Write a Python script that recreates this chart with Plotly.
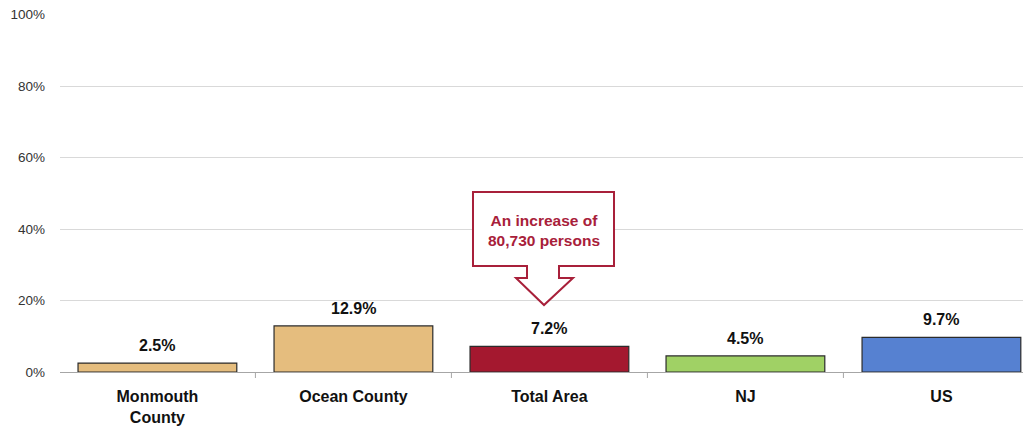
import plotly.graph_objects as go

categories = ["Monmouth<br>County", "Ocean County", "Total Area", "NJ", "US"]
values = [2.5, 12.9, 7.2, 4.5, 9.7]
labels = ["2.5%", "12.9%", "7.2%", "4.5%", "9.7%"]
colors = ["#E5BD7E", "#E5BD7E", "#A4182F", "#A0D165", "#5681D1"]
yticks = [0, 20, 40, 60, 80, 100]
ytick_labels = ["0%", "20%", "40%", "60%", "80%", "100%"]
callout_text = "An increase of<br>80,730 persons"

FONT = "Liberation Sans Narrow, Arial Narrow, Liberation Sans, Arial, sans-serif"
RED = "#A8203A"

OFF = 8  # page body margin
W, H = 1031 - OFF, 430 - OFF
L, R, T, B = 52, 0, 6, 58
pw = W - L - R
ph = H - T - B
YMAX = 100.2

fig = go.Figure()
fig.add_trace(go.Bar(
    x=list(range(len(categories))), y=values,
    marker=dict(color=colors, line=dict(color="#2b2b2b", width=1.2)),
    width=0.81,
    hoverinfo="skip",
))

for i, (v, lab) in enumerate(zip(values, labels)):
    fig.add_annotation(x=i, y=v, xref="x", yref="y", text=lab, showarrow=False,
                       yanchor="bottom", yshift=7,
                       font=dict(family=FONT, size=16, color="#111111", weight="bold"))

# callout in window pixel -> paper coordinates
def px(x):
    return (x - OFF - L) / pw

def py(y):
    return (H + OFF - B - y) / ph

pts = [(473, 192), (614, 192), (614, 266), (559, 266), (559, 278), (573, 278),
       (544, 305), (516, 278), (527, 278), (527, 266), (473, 266)]
path = "M " + " L ".join(f"{px(a):.5f},{py(b):.5f}" for a, b in pts) + " Z"
fig.add_shape(type="path", path=path, xref="paper", yref="paper",
              line=dict(color=RED, width=2), fillcolor="white", layer="above")
fig.add_annotation(x=px(544), y=py(230), xref="paper", yref="paper",
                   text=callout_text, showarrow=False,
                   font=dict(family=FONT, size=15.5, color=RED, weight="bold"),
                   align="center", yanchor="middle", xanchor="center")

fig.update_layout(
    width=W, height=H,
    margin=dict(l=L, r=R, t=T, b=B, autoexpand=False),
    plot_bgcolor="white", paper_bgcolor="white",
    showlegend=False,
    xaxis=dict(
        range=[-0.497, 4.457],
        tickmode="array", tickvals=list(range(len(categories))), ticktext=categories,
        showgrid=False, zeroline=False, automargin=False,
        showline=True, linecolor="#a6a6a6", linewidth=1,
        ticks="", ticklabelstandoff=10,
        tickfont=dict(family=FONT, size=16, color="#111111", weight="bold"),
    ),
    yaxis=dict(
        range=[0, YMAX], tickvals=yticks, ticktext=ytick_labels,
        showgrid=True, gridcolor="#d9d9d9", gridwidth=1,
        zeroline=False, showline=False, automargin=False,
        ticklabeloverflow="allow",
        tickfont=dict(family=FONT, size=13.5, color="#333333"),
        ticklen=0, ticklabelstandoff=14,
    ),
)

# category boundary tick marks
for i in range(len(categories)):
    fig.add_shape(type="line", xref="x", yref="paper",
                  x0=i - 0.5, x1=i - 0.5, y0=0, y1=-6 / ph,
                  line=dict(color="#a6a6a6", width=1))

fig.write_html("out.html")
